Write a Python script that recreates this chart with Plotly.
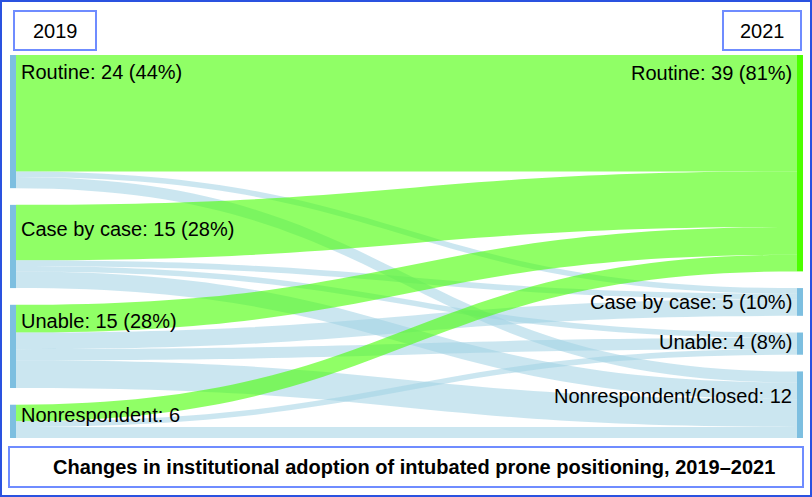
import plotly.graph_objects as go

# ---- data ----
left_labels = ["Routine: 24 (44%)", "Case by case: 15 (28%)", "Unable: 15 (28%)", "Nonrespondent: 6"]
right_labels = ["Routine: 39 (81%)", "Case by case: 5 (10%)", "Unable: 4 (8%)", "Nonrespondent/Closed: 12"]
categories_left = ["Routine", "Case by case", "Unable", "Nonrespondent"]
categories_right = ["Routine", "Case by case", "Unable", "Nonrespondent/Closed"]
link_source = [0, 0, 0, 1, 1, 1, 1, 2, 2, 2, 2, 3, 3, 3]
link_target = [0, 1, 3, 0, 1, 2, 3, 0, 1, 2, 3, 0, 2, 3]
link_value = [21, 1, 2, 10, 1, 1, 3, 5, 3, 2, 5, 3, 1, 2]
year_labels = ["2019", "2021"]
title_text = "Changes in institutional adoption of intubated prone positioning, 2019–2021"

# ---- styling / layout ----
W, H = 812, 497
dom_x = (10, 803)      # px
dom_y = (55, 438)      # px (top, bottom)
pad = 16.7
thick = 6
GREEN_LINK = "rgba(70,255,0,0.6)"
BLUE_LINK = "rgba(160,210,228,0.55)"
BLUE_NODE = "#7dbfe0"
GREEN_NODE = "#4cff00"
FONT = "Liberation Sans, Arial, Helvetica, sans-serif"
LABEL_SIZE = 20

n_left = len(categories_left)
n_right = len(categories_right)
left_tot = [sum(v for s, v in zip(link_source, link_value) if s == i) for i in range(n_left)]
right_tot = [sum(v for t, v in zip(link_target, link_value) if t == i) for i in range(n_right)]

dw = dom_x[1] - dom_x[0]
dh = dom_y[1] - dom_y[0]
ky = min((dh - (n_left - 1) * pad) / sum(left_tot), (dh - (n_right - 1) * pad) / sum(right_tot))

def stack(tots):
    tops, centers = [], []
    y = 0.0
    for v in tots:
        h = v * ky
        tops.append(y)
        centers.append((y + h / 2) / dh)
        y += h + pad
    return tops, centers

left_tops, left_cy = stack(left_tot)
right_tops, right_cy = stack(right_tot)

node_x = [thick / 2 / dw] * n_left + [1 - thick / 2 / dw] * n_right
node_y = left_cy + right_cy
node_colors = [BLUE_NODE] * n_left + [GREEN_NODE] + [BLUE_NODE] * (n_right - 1)

link_colors = [GREEN_LINK if t == 0 else BLUE_LINK for t in link_target]

fig = go.Figure(go.Sankey(
    arrangement="fixed",
    domain=dict(x=[dom_x[0] / W, dom_x[1] / W], y=[1 - dom_y[1] / H, 1 - dom_y[0] / H]),
    node=dict(
        label=[""] * (n_left + n_right),
        x=node_x, y=node_y,
        pad=pad, thickness=thick,
        color=node_colors,
        line=dict(width=0),
    ),
    link=dict(
        source=link_source,
        target=[t + n_left for t in link_target],
        value=link_value,
        color=link_colors,
        line=dict(width=0),
    ),
    hoverinfo="none",
))

# label offsets below node top (px)
left_off = [17, 24, 16, 10]
right_off = [18, 14, 9, 25]

annotations = []
for lab, top, off in zip(left_labels, left_tops, left_off):
    annotations.append(dict(
        x=(dom_x[0] + thick + 3) / W, y=1 - (dom_y[0] + top + off) / H,
        xref="paper", yref="paper", xanchor="left", yanchor="middle",
        text=lab, showarrow=False, font=dict(family=FONT, size=LABEL_SIZE, color="black")))
for lab, top, off in zip(right_labels, right_tops, right_off):
    annotations.append(dict(
        x=(dom_x[1] - thick - 3) / W, y=1 - (dom_y[0] + top + off) / H,
        xref="paper", yref="paper", xanchor="right", yanchor="middle",
        text=lab, showarrow=False, font=dict(family=FONT, size=LABEL_SIZE, color="black")))

# year boxes
year_boxes = [(14, 96), (723, 801)]
shapes = []
for (x0, x1), yl in zip(year_boxes, year_labels):
    shapes.append(dict(type="rect", xref="paper", yref="paper",
                       x0=x0 / W, x1=x1 / W, y0=1 - 50 / H, y1=1 - 11 / H,
                       line=dict(color="#6f8cff", width=2), fillcolor="white"))
    annotations.append(dict(x=(x0 + x1) / 2 / W, y=1 - 31 / H, xref="paper", yref="paper",
                            text=yl, showarrow=False, xanchor="center", yanchor="middle",
                            font=dict(family=FONT, size=LABEL_SIZE, color="black")))

# title box
shapes.append(dict(type="rect", xref="paper", yref="paper",
                   x0=9 / W, x1=803 / W, y0=1 - 487 / H, y1=1 - 447 / H,
                   line=dict(color="#6f8cff", width=2), fillcolor="white"))
annotations.append(dict(x=414 / W, y=1 - 467 / H, xref="paper", yref="paper",
                        text="<b>" + title_text + "</b>", showarrow=False,
                        xanchor="center", yanchor="middle",
                        font=dict(family=FONT, size=20, color="black")))

# outer frame
shapes.append(dict(type="rect", xref="paper", yref="paper",
                   x0=1 / W, x1=811 / W, y0=1 / H, y1=1 - 1 / H,
                   line=dict(color="#2a52e0", width=2)))

fig.update_layout(
    width=W, height=H,
    margin=dict(l=0, r=0, t=0, b=0),
    paper_bgcolor="white", plot_bgcolor="white",
    shapes=shapes, annotations=annotations,
)

fig.write_html("out.html", config={"displayModeBar": False},
               post_script="document.body.style.margin='0';document.body.style.overflow='hidden';")
